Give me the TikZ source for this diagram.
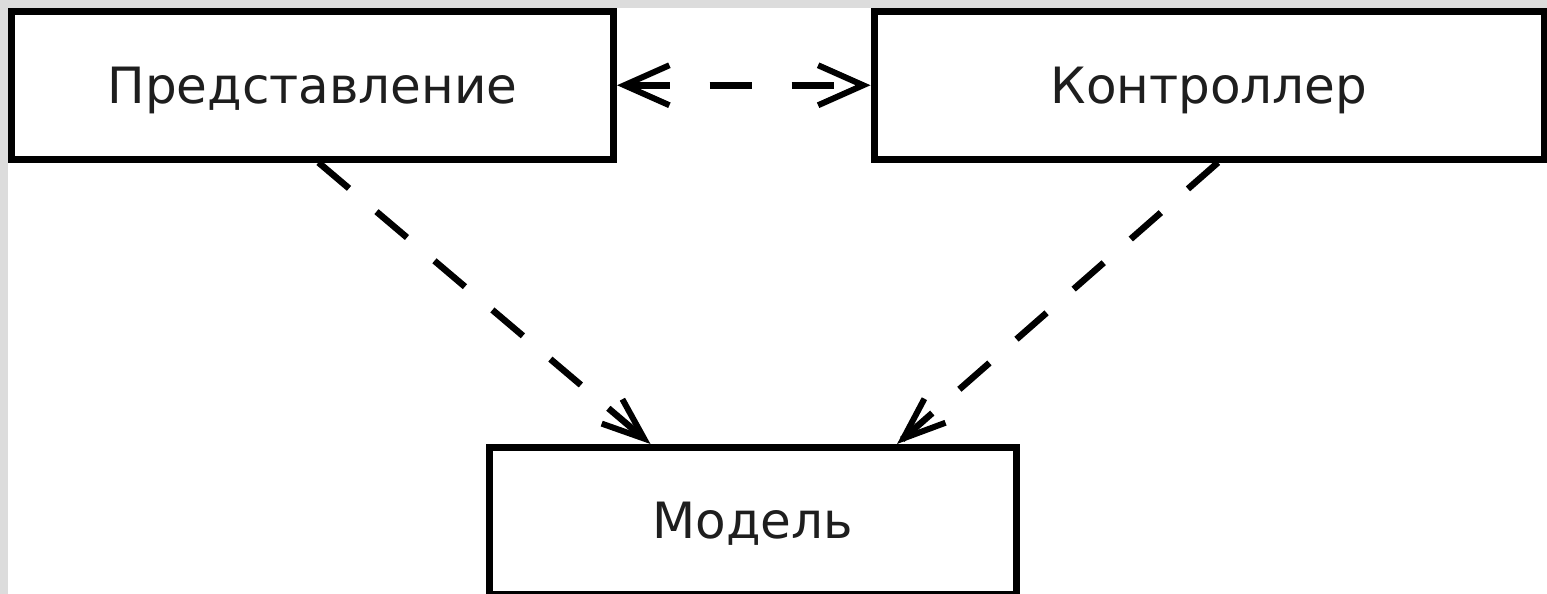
\documentclass[tikz,border=0pt]{standalone}
\usepackage{fontspec}
\setmainfont{DejaVu Sans}
\usetikzlibrary{arrows.meta,decorations.markings}
\definecolor{framegray}{HTML}{DCDCDC}
\definecolor{labelink}{HTML}{1E1E1E}
\begin{document}
\begin{tikzpicture}[x=1pt,y=-1pt,
  block/.style={draw=black, line width=7pt, fill=white, rectangle,
    inner sep=0pt, text height=46pt, text depth=10.5pt,
    font=\fontsize{50}{60}\selectfont, text=labelink},
  % dashed dependency; heads are placed as markings so the dashes run to the tips
  sidehead/.style={decoration={markings,
      mark=at position 0 with {\arrowreversed{Straight Barb[length=45pt,width=40pt,line width=6pt]}},
      mark=at position 1 with {\arrow{Straight Barb[length=45pt,width=40pt,line width=6pt]}}},
    postaction={decorate}},
  downhead/.style={decoration={markings,
      mark=at position 1 with {\arrow{Straight Barb[length=42pt,width=32pt,line width=6pt]}}},
    postaction={decorate}},
  sidelink/.style={draw=black, line width=6.5pt, dash pattern=on 42pt off 40pt,
    dash phase=71.5pt, sidehead},
  downlink/.style={draw=black, line width=6.5pt, dash pattern=on 40pt off 36pt,
    downhead}
]
% canvas
\useasboundingbox (0,0) rectangle (1547,594);
\fill[framegray] (0,0) rectangle (1547,594);
\fill[white] (8,8) rectangle (1547,594);

% the three components
\node[block, minimum width=602pt, minimum height=147.5pt] (view) at (312.5,85.25) {Представление};
\node[block, minimum width=670pt, minimum height=147.5pt] (ctrl) at (1209,85.25) {Контроллер};
\node[block, minimum width=527pt, minimum height=146.5pt] (model) at (752.5,520.75) {Модель};

% dependencies
\draw[sidelink] (view.east) -- (ctrl.west);
\draw[downlink] ([xshift=6pt]view.south) -- ([xshift=-102pt]model.north);
\draw[downlink] ([xshift=9pt]ctrl.south) -- ([xshift=144.5pt]model.north);
\end{tikzpicture}
\end{document}
